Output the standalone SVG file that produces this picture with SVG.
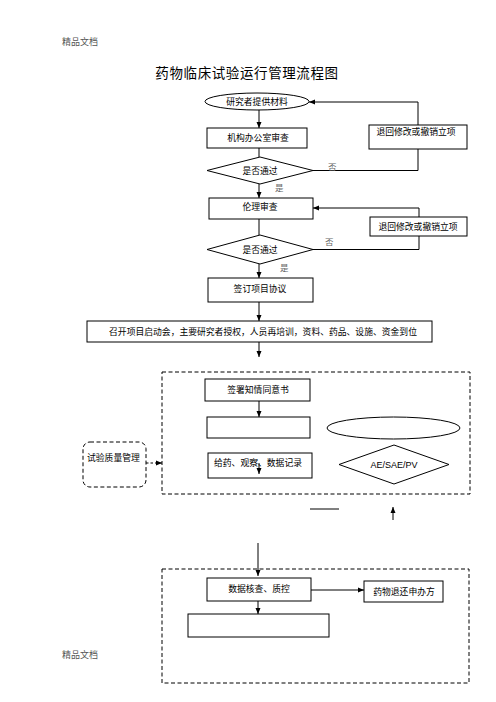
<svg xmlns="http://www.w3.org/2000/svg" width="496" height="702" viewBox="0 0 496 702">
<style>
.n{fill:#fff;stroke:#000;stroke-width:1}
.d{fill:none;stroke:#000;stroke-width:1;stroke-dasharray:4,2.5}
.c{fill:none;stroke:#000;stroke-width:1}
.t{font-family:"Noto Sans CJK SC","Liberation Sans",sans-serif;font-size:8.8px;fill:#000;text-anchor:middle}
.g{font-family:"Noto Sans CJK SC",serif;font-size:8.5px;fill:#666}
.h{font-family:"Noto Sans CJK SC",serif;font-size:9px;fill:#555}
</style>
<defs>
<marker id="a" markerUnits="userSpaceOnUse" markerWidth="6" markerHeight="6" refX="6" refY="3" orient="auto">
<path d="M0,0.5 L6,3 L0,5.5 z" fill="#000"/>
</marker>
</defs>
<rect width="496" height="702" fill="#fff"/>
<text class="h" x="62" y="45">精品文档</text>
<text class="h" x="62" y="658">精品文档</text>
<text x="247" y="78" font-family="Noto Sans CJK SC,sans-serif" font-size="13.5" text-anchor="middle" letter-spacing="0.6">药物临床试验运行管理流程图</text>

<g id="connectors">
<line class="c" x1="259" y1="110" x2="259" y2="128" marker-end="url(#a)"/>
<line class="c" x1="259" y1="148" x2="259" y2="157"/>
<polyline class="c" points="313,170.5 418,170.5 418,149"/>
<polyline class="c" points="418,125 418,102 309,102" marker-end="url(#a)"/>
<line class="c" x1="259" y1="184" x2="259" y2="198" marker-end="url(#a)"/>
<line class="c" x1="259" y1="219" x2="259" y2="235"/>
<polyline class="c" points="313,249.5 419,249.5 419,236"/>
<polyline class="c" points="419,217 419,208 313,208" marker-end="url(#a)"/>
<line class="c" x1="259" y1="264" x2="259" y2="278" marker-end="url(#a)"/>
<line class="c" x1="259" y1="302" x2="259" y2="321" marker-end="url(#a)"/>
<line class="c" x1="259" y1="342" x2="259" y2="357" marker-end="url(#a)"/>
<line class="c" x1="259" y1="401" x2="259" y2="417" marker-end="url(#a)"/>
<line class="c" x1="259" y1="463" x2="259" y2="474" marker-end="url(#a)"/>
<line class="c" x1="146" y1="463" x2="162" y2="463" stroke-dasharray="2.5,2" marker-end="url(#a)"/>
<line class="c" x1="310" y1="509" x2="339" y2="509"/>
<line class="c" x1="393" y1="520" x2="393" y2="507" marker-end="url(#a)"/>
<line class="c" x1="258" y1="543" x2="258" y2="576" marker-end="url(#a)"/>
<line class="c" x1="311" y1="590" x2="364" y2="590" marker-end="url(#a)"/>
<line class="c" x1="258" y1="601" x2="258" y2="614" marker-end="url(#a)"/>
<text class="g" x="328" y="170">否</text>
<text class="g" x="275" y="191">是</text>
<text class="g" x="325" y="245">否</text>
<text class="g" x="280" y="271">是</text>
</g>

<g id="n-start"><ellipse class="n" cx="257" cy="101.5" rx="52" ry="8.5"/><text class="t" x="257" y="104.5">研究者提供材料</text></g>
<g id="n-office"><rect class="n" x="207" y="128" width="100" height="20"/><text class="t" x="258" y="141">机构办公室审查</text></g>
<g id="n-pass1"><polygon class="n" points="207,170.5 260,157 313,170.5 260,184"/><text class="t" x="260" y="173.5">是否通过</text></g>
<g id="n-return1"><rect class="n" x="369" y="125" width="98" height="24"/><text class="t" x="416" y="135">退回修改或撤销立项</text></g>
<g id="n-ethics"><rect class="n" x="209" y="198" width="104" height="21"/><text class="t" x="260" y="210">伦理审查</text></g>
<g id="n-return2"><rect class="n" x="370" y="217" width="97" height="19"/><text class="t" x="418" y="229.5">退回修改或撤销立项</text></g>
<g id="n-pass2"><polygon class="n" points="207,249.5 260,235 313,249.5 260,264"/><text class="t" x="260" y="252.5">是否通过</text></g>
<g id="n-sign"><rect class="n" x="208" y="278" width="105" height="24"/><text class="t" x="260" y="292">签订项目协议</text></g>
<g id="n-kickoff"><rect class="n" x="87" y="321" width="345" height="21"/><text class="t" x="263" y="334.5">召开项目启动会，主要研究者授权，人员再培训，资料、药品、设施、资金到位</text></g>
<g id="n-group1"><rect class="d" x="162" y="372" width="308" height="122"/></g>
<g id="n-consent"><rect class="n" x="205" y="379" width="105" height="22"/><text class="t" x="258" y="393">签署知情同意书</text></g>
<g id="n-empty1"><rect class="n" x="207" y="417" width="103" height="21"/></g>
<g id="n-dose"><rect class="n" x="208" y="453" width="104" height="25" fill-opacity="0"/><text class="t" x="214" y="466" text-anchor="start" style="text-anchor:start">给药、观察、数据记录</text></g>
<g id="n-ellipse"><ellipse class="n" cx="393.5" cy="428" rx="66.5" ry="11"/></g>
<g id="n-ae"><polygon class="n" points="339,464.5 394,445 449,464.5 394,484"/><text x="394" y="468" font-family="Liberation Sans,sans-serif" font-size="9" text-anchor="middle">AE/SAE/PV</text></g>
<g id="n-quality"><rect class="d" x="83" y="442" width="63" height="45" rx="7" stroke-dasharray="2.5,2"/><text class="t" x="87" y="461" style="text-anchor:start">试验质量管理</text></g>
<g id="n-group2"><rect class="d" x="162" y="569" width="307" height="114"/></g>
<g id="n-check"><rect class="n" x="207" y="578" width="104" height="23"/><text class="t" x="259" y="592">数据核查、质控</text></g>
<g id="n-drug"><rect class="n" x="364" y="581" width="79" height="21"/><text class="t" x="404" y="594.5">药物退还申办方</text></g>
<g id="n-empty2"><rect class="n" x="188" y="614" width="141" height="23"/></g>
</svg>
